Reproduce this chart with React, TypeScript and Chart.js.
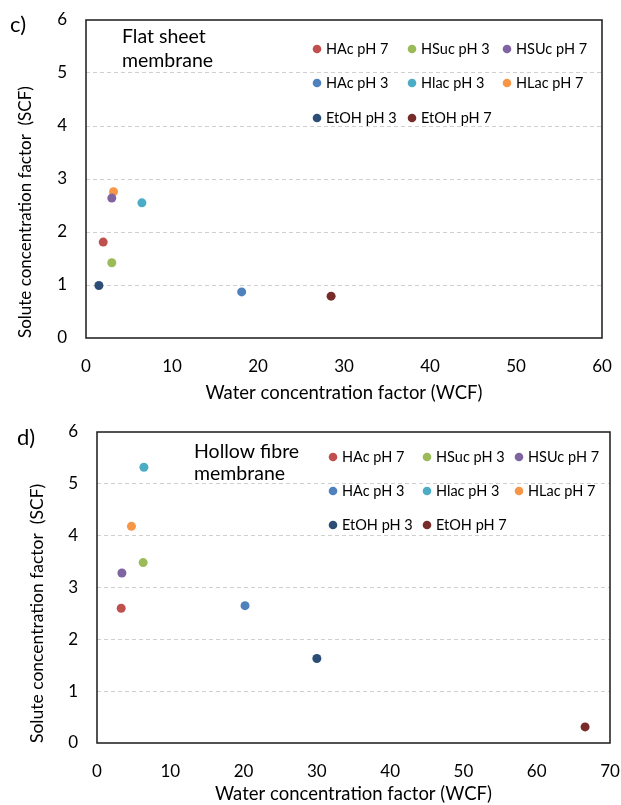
import React, { useEffect, useRef } from 'react';
import { Chart, registerables } from 'chart.js';

Chart.register(...registerables);

// ---------- data ----------
const SERIES_NAMES = ['HAc pH 7', 'HSuc pH 3', 'HSUc pH 7', 'HAc pH 3', 'Hlac pH 3', 'HLac pH 7', 'EtOH pH 3', 'EtOH pH 7'];
const SERIES_COLORS = ['#C0504D', '#9BBB59', '#8064A2', '#4F81BD', '#4BACC6', '#F79646', '#2C4D75', '#772C2A'];

// c) Flat sheet membrane
const FLAT_WCF = [2.0, 3.0, 3.0, 18.1, 6.5, 3.2, 1.5, 28.5];
const FLAT_SCF = [1.81, 1.42, 2.64, 0.87, 2.55, 2.76, 0.99, 0.79];

// d) Hollow fibre membrane
const HOLLOW_WCF = [3.3, 6.3, 3.4, 20.2, 6.4, 4.7, 30.0, 66.6];
const HOLLOW_SCF = [2.6, 3.48, 3.28, 2.65, 5.32, 4.18, 1.63, 0.31];

const FLAT_X_TICKS = [0, 10, 20, 30, 40, 50, 60];
const HOLLOW_X_TICKS = [0, 10, 20, 30, 40, 50, 60, 70];
const SCF_TICKS = [0, 1, 2, 3, 4, 5, 6];

const FLAT_NOTE = ['Flat sheet', 'membrane'];
const HOLLOW_NOTE = ['Hollow fibre', 'membrane'];
const X_TITLE = 'Water concentration factor (WCF)';
const Y_TITLE = 'Solute concentration factor  (SCF)';

const FONT = 'Lato';
const TEXT = '#000000';

// ---------- decoration plugin ----------
const decorPlugin = {
  id: 'decor',
  beforeDatasetsDraw(chart: any) {
    const { ctx, chartArea } = chart;
    ctx.save();
    ctx.strokeStyle = '#1a1a1a';
    ctx.lineWidth = 1.5;
    ctx.strokeRect(chartArea.left, chartArea.top, chartArea.right - chartArea.left, chartArea.bottom - chartArea.top);
    ctx.restore();
  },
  afterDatasetsDraw(chart: any, _args: any, opts: any) {
    const { ctx, chartArea } = chart;
    ctx.save();
    ctx.fillStyle = TEXT;
    ctx.textBaseline = 'middle';
    ctx.textAlign = 'left';
    // panel letter
    ctx.font = `${opts.panelSize}px ${FONT}`;
    ctx.fillText(opts.panel, opts.panelX, opts.panelY);
    // note
    ctx.font = `${opts.noteSize}px ${FONT}`;
    opts.note.forEach((line: string, i: number) => {
      ctx.fillText(line, opts.noteX, opts.noteY + i * opts.noteGap);
    });
    // legend
    ctx.font = `${opts.legendSize}px ${FONT}`;
    chart.data.datasets.forEach((ds: any, i: number) => {
      const col = i % 3;
      const row = Math.floor(i / 3);
      const x = chartArea.left + opts.legendCols[col];
      const y = chartArea.top + opts.legendRows[row];
      ctx.beginPath();
      ctx.fillStyle = ds.backgroundColor;
      ctx.arc(x, y, 4.3, 0, Math.PI * 2);
      ctx.fill();
      ctx.fillStyle = TEXT;
      ctx.fillText(ds.label, x + 9, y);
    });
    ctx.restore();
  },
};

function makeConfig(wcf: number[], scf: number[], xTicks: number[], p: any) {
  return {
    type: 'scatter' as const,
    data: {
      datasets: SERIES_NAMES.map((name, i) => ({
        label: name,
        data: [{ x: wcf[i], y: scf[i] }],
        backgroundColor: SERIES_COLORS[i],
        borderColor: SERIES_COLORS[i],
        pointRadius: 4.5,
        pointBorderWidth: 0,
        pointHoverRadius: 4.5,
      })),
    },
    options: {
      responsive: false,
      animation: false,
      layout: { autoPadding: false, padding: { top: p.padTop, right: p.padRight, left: 0, bottom: 0 } },
      plugins: {
        legend: { display: false },
        tooltip: { enabled: false },
        decor: p.decor,
      },
      scales: {
        x: {
          type: 'linear',
          min: xTicks[0],
          max: xTicks[xTicks.length - 1],
          afterBuildTicks: (s: any) => { s.ticks = xTicks.map((v) => ({ value: v })); },
          afterFit: (s: any) => { s.height = p.xHeight; s.paddingLeft = 0; s.paddingRight = 0; },
          grid: { display: false, drawTicks: false },
          border: { display: false },
          ticks: { font: { family: FONT, size: p.tickSize }, color: TEXT, padding: p.xTickPad, maxRotation: 0 },
          title: {
            display: true,
            text: X_TITLE,
            font: { family: FONT, size: p.xTitleSize },
            color: TEXT,
            padding: { top: 0, bottom: p.xTitlePad },
          },
        },
        y: {
          type: 'linear',
          min: SCF_TICKS[0],
          max: SCF_TICKS[SCF_TICKS.length - 1],
          afterBuildTicks: (s: any) => { s.ticks = SCF_TICKS.map((v) => ({ value: v })); },
          afterFit: (s: any) => { s.width = p.yWidth; s.paddingTop = 0; s.paddingBottom = 0; },
          grid: {
            drawTicks: false,
            lineWidth: 1,
            color: (c: any) => (c.tick && (c.tick.value === SCF_TICKS[0] || c.tick.value === SCF_TICKS[SCF_TICKS.length - 1]) ? 'rgba(0,0,0,0)' : '#d0d0d0'),
          },
          border: { display: false, dash: [4, 3] },
          ticks: { font: { family: FONT, size: p.tickSize }, color: TEXT, padding: p.yTickPad },
          title: {
            display: true,
            text: Y_TITLE,
            align: 'start',
            font: { family: FONT, size: p.yTitleSize },
            color: TEXT,
            padding: { top: p.yTitlePad, bottom: 0 },
          },
        },
      },
    },
    plugins: [decorPlugin],
  };
}

function Panel(props: { width: number; height: number; config: any; top: number }) {
  const ref = useRef<HTMLCanvasElement | null>(null);
  useEffect(() => {
    if (!ref.current) return;
    const chart = new Chart(ref.current, props.config);
    return () => chart.destroy();
  }, []);
  return (
    <canvas
      ref={ref}
      width={props.width}
      height={props.height}
      style={{ position: 'absolute', left: 0, top: props.top, width: props.width, height: props.height, display: 'block' }}
    />
  );
}

export default function App() {
  const flat = makeConfig(FLAT_WCF, FLAT_SCF, FLAT_X_TICKS, {
    padTop: 20, padRight: 19, xHeight: 72, yWidth: 86,
    tickSize: 17, xTitleSize: 18.5, yTitleSize: 17, xTickPad: 18, yTickPad: 19, xTitlePad: 6, yTitlePad: 15,
    decor: {
      panel: 'c)', panelSize: 22, panelX: 10, panelY: 25,
      note: FLAT_NOTE, noteSize: 19.5, noteX: 122, noteY: 37, noteGap: 24,
      legendSize: 14.5, legendCols: [231, 326, 421], legendRows: [29, 63, 98],
    },
  });
  const hollow = makeConfig(HOLLOW_WCF, HOLLOW_SCF, HOLLOW_X_TICKS, {
    padTop: 22, padRight: 11, xHeight: 62, yWidth: 97,
    tickSize: 17, xTitleSize: 18.5, yTitleSize: 17.5, xTickPad: 18, yTickPad: 19, xTitlePad: 0, yTitlePad: 27,
    decor: {
      panel: 'd)', panelSize: 22, panelX: 17, panelY: 28,
      note: HOLLOW_NOTE, noteSize: 19.5, noteX: 194, noteY: 42, noteGap: 22,
      legendSize: 14.5, legendCols: [236, 330, 422], legendRows: [25, 59, 93],
    },
  });
  return (
    <div style={{ position: 'absolute', left: 0, top: 0, width: 621, height: 805, background: '#ffffff', overflow: 'hidden' }}>
      <Panel width={621} height={410} top={0} config={flat} />
      <Panel width={621} height={395} top={410} config={hollow} />
    </div>
  );
}
